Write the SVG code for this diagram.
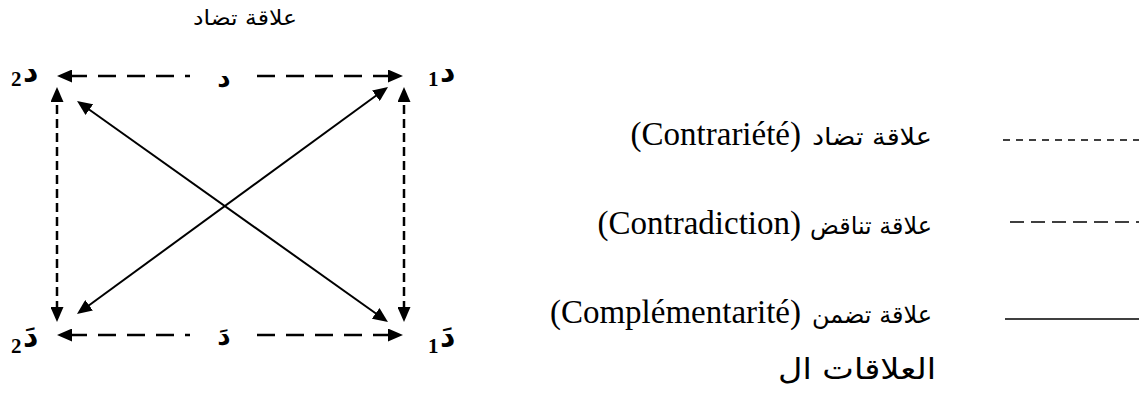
<svg xmlns="http://www.w3.org/2000/svg" width="1139" height="399" viewBox="0 0 1139 399">
<defs>
<style>
.lbl{font-family:"Liberation Serif","DejaVu Sans",serif;font-weight:bold;fill:#000}
.ar{font-family:"DejaVu Sans","Liberation Sans",sans-serif;fill:#000}
.lat{font-family:"Liberation Serif",serif;fill:#000;font-size:33px}
.leg{font-family:"DejaVu Sans","Liberation Sans",sans-serif;fill:#000;font-size:24px}
.dash{fill:none;stroke:#000;stroke-width:2.5;stroke-dasharray:18 11}
.vdash{fill:none;stroke:#000;stroke-width:2.5;stroke-dasharray:9 5}
.solid{fill:none;stroke:#000;stroke-width:2}
</style>
<marker id="ah" viewBox="0 0 15 13" refX="11" refY="6.5" markerWidth="15" markerHeight="13" markerUnits="userSpaceOnUse" orient="auto-start-reverse">
<path d="M0,0 L15,6.5 L0,13 z" fill="#000"/>
</marker>
</defs>
<rect width="1139" height="399" fill="#fff"/>

<text class="ar" x="245" y="25" font-size="21" text-anchor="middle" textLength="104" lengthAdjust="spacingAndGlyphs">علاقة تضاد</text>

<g id="connectors">
<path class="dash" d="M61,76 L190,76" marker-start="url(#ah)" stroke-dashoffset="-8"/>
<path class="dash" d="M399,76 L257,76" marker-start="url(#ah)" stroke-dashoffset="-8"/>
<path class="dash" d="M61,335 L190,335" marker-start="url(#ah)" stroke-dashoffset="-8"/>
<path class="dash" d="M399,335 L257,335" marker-start="url(#ah)" stroke-dashoffset="-8"/>
<path class="vdash" d="M57,91 L57,318" marker-start="url(#ah)" marker-end="url(#ah)"/>
<path class="vdash" d="M404,91 L404,318" marker-start="url(#ah)" marker-end="url(#ah)"/>
<path class="solid" d="M80.3,103.3 L384.7,319.7" marker-start="url(#ah)" marker-end="url(#ah)"/>
<path class="solid" d="M384.8,89.3 L80.2,311.7" marker-start="url(#ah)" marker-end="url(#ah)"/>
</g>

<g id="node-d2">
<text class="lbl" x="23" y="81" font-size="30">د</text>
<text class="lbl" x="11" y="86" font-size="21">2</text>
</g>
<g id="node-d1">
<text class="lbl" x="440" y="81" font-size="30">د</text>
<text class="lbl" x="428" y="86" font-size="21">1</text>
</g>
<g id="node-d">
<text class="lbl" x="224" y="87" font-size="26" text-anchor="middle">د</text>
</g>
<g id="node-d2p">
<text class="lbl" x="23" y="346" font-size="30">دَ</text>
<text class="lbl" x="11" y="353" font-size="21">2</text>
</g>
<g id="node-d1p">
<text class="lbl" x="440" y="346" font-size="30">دَ</text>
<text class="lbl" x="428" y="353" font-size="21">1</text>
</g>
<g id="node-dp">
<text class="lbl" x="224" y="345" font-size="26" text-anchor="middle">دَ</text>
</g>

<g id="legend">
<line x1="1003" y1="140" x2="1139" y2="140" stroke="#000" stroke-width="1.3" stroke-dasharray="7 6"/>
<text class="lat" x="801" y="145" text-anchor="end">(Contrariété)</text>
<text class="leg" x="932" y="145" text-anchor="end" textLength="120" lengthAdjust="spacingAndGlyphs">علاقة تضاد</text>
<line x1="1010" y1="222" x2="1139" y2="222" stroke="#000" stroke-width="1.3" stroke-dasharray="14 7"/>
<text class="lat" x="801" y="234" text-anchor="end">(Contradiction)</text>
<text class="leg" x="932" y="234" text-anchor="end" textLength="122" lengthAdjust="spacingAndGlyphs">علاقة تناقض</text>
<line x1="1005" y1="319" x2="1139" y2="319" stroke="#000" stroke-width="1.5"/>
<text class="lat" x="801" y="323" text-anchor="end">(Complémentarité)</text>
<text class="leg" x="932" y="323" text-anchor="end" textLength="120" lengthAdjust="spacingAndGlyphs">علاقة تضمن</text>
<text class="ar" x="936" y="379" font-size="29" text-anchor="end" textLength="158" lengthAdjust="spacingAndGlyphs">العلاقات ال</text>
</g>
</svg>
